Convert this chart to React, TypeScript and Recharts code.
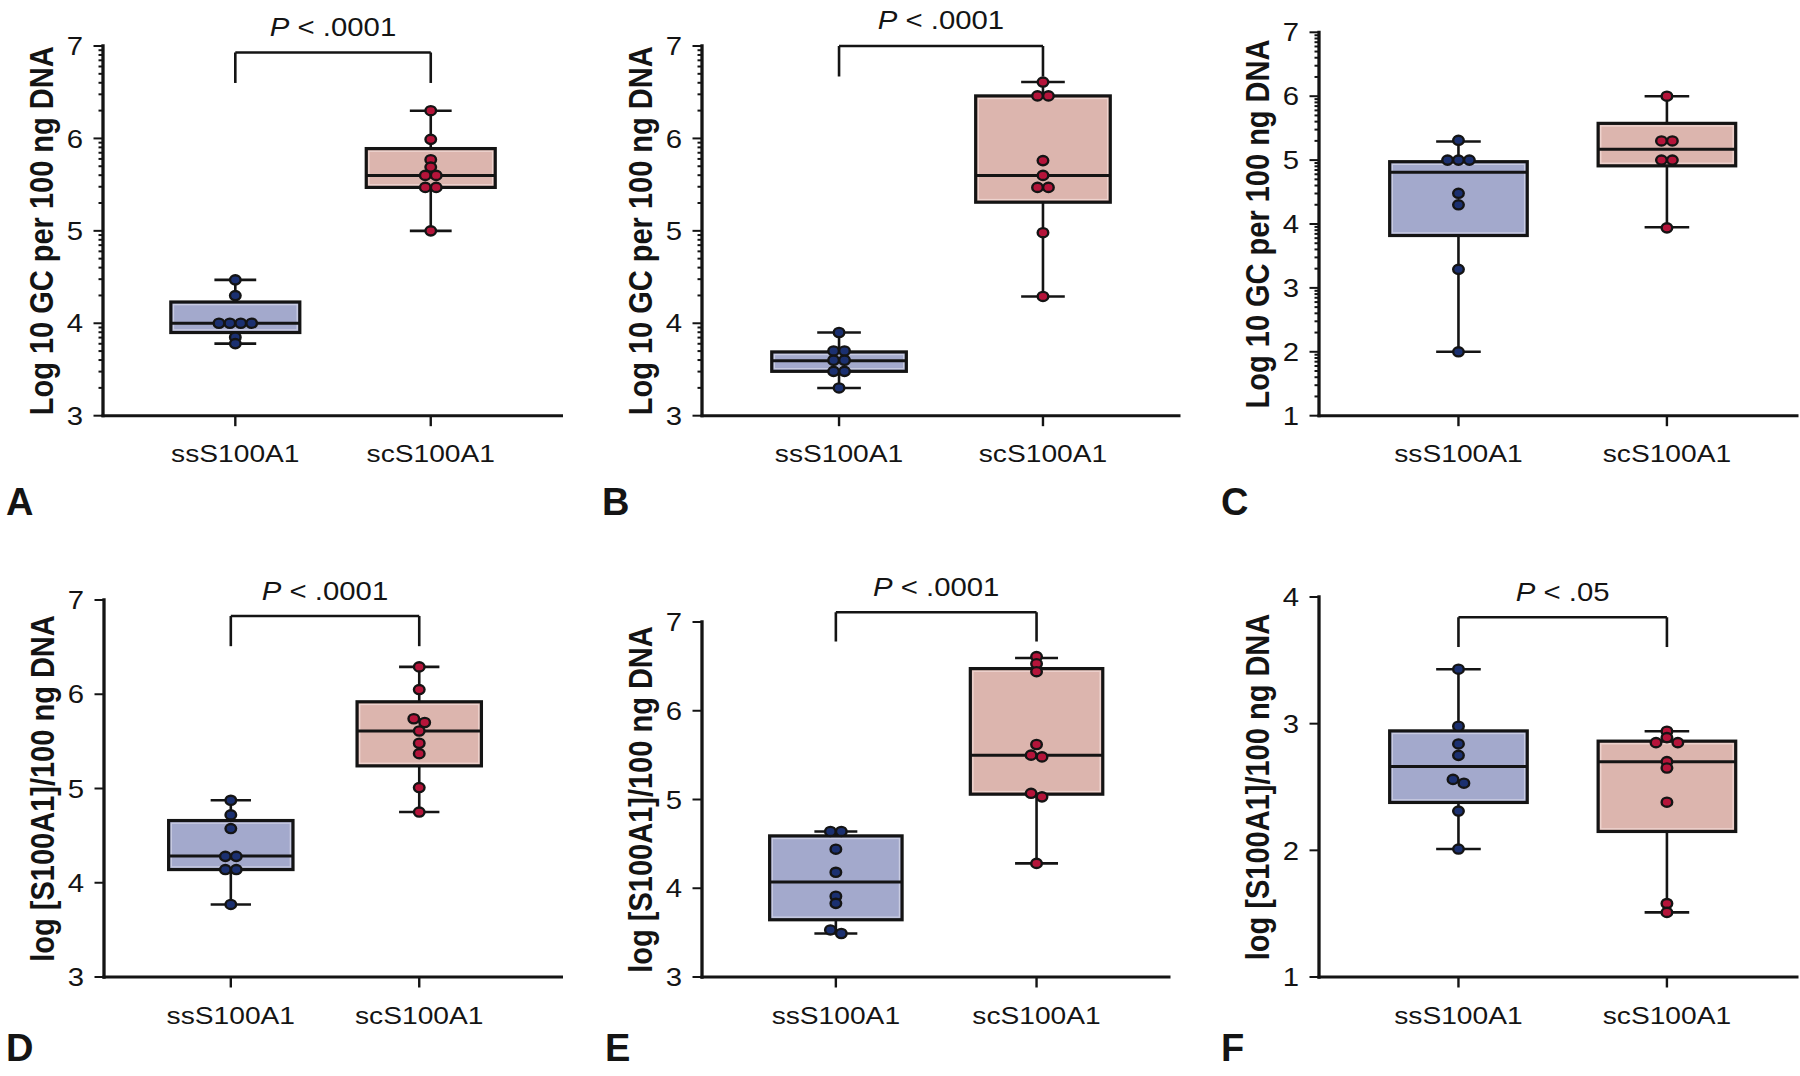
import React from 'react';
import { ComposedChart, XAxis, YAxis, Scatter, ReferenceArea, ReferenceLine } from 'recharts';

const categories = ['ssS100A1', 'scS100A1'];

// individual values, one array per group
const aSsPoints = [4.47, 4.3, 4.0, 4.0, 4.0, 4.0, 3.85, 3.78];
const aScPoints = [6.3, 5.99, 5.77, 5.69, 5.6, 5.6, 5.47, 5.47, 5.0];
const bSsPoints = [3.9, 3.7, 3.7, 3.6, 3.6, 3.48, 3.48, 3.3];
const bScPoints = [6.61, 6.46, 6.46, 5.76, 5.6, 5.47, 5.47, 4.98, 4.29];
const cSsPoints = [5.31, 5.0, 5.0, 5.0, 4.48, 4.3, 3.29, 2.0];
const cScPoints = [6.0, 5.3, 5.3, 5.0, 5.0, 3.94];
const dSsPoints = [4.875, 4.72, 4.575, 4.28, 4.28, 4.14, 4.14, 3.77];
const dScPoints = [6.29, 6.05, 5.74, 5.7, 5.61, 5.48, 5.37, 5.01, 4.75];
const eSsPoints = [4.64, 4.64, 4.44, 4.18, 3.91, 3.83, 3.53, 3.49];
const eScPoints = [6.61, 6.53, 6.44, 5.62, 5.5, 5.48, 5.07, 5.03, 4.28];
const fSsPoints = [3.43, 2.98, 2.84, 2.75, 2.56, 2.53, 2.31, 2.01];
const fScPoints = [2.94, 2.89, 2.85, 2.85, 2.7, 2.65, 2.38, 1.58, 1.51];

// box stats as drawn: min, q1, median, q3, max
const aSsBox = [3.78, 3.9, 4.0, 4.23, 4.47];
const aScBox = [5.0, 5.47, 5.6, 5.89, 6.3];
const bSsBox = [3.3, 3.48, 3.595, 3.69, 3.9];
const bScBox = [4.29, 5.31, 5.6, 6.46, 6.61];
const cSsBox = [2.0, 3.82, 4.81, 4.975, 5.29];
const cScBox = [3.95, 4.91, 5.17, 5.575, 6.0];
const dSsBox = [3.77, 4.14, 4.285, 4.66, 4.875];
const dScBox = [4.75, 5.24, 5.61, 5.92, 6.29];
const eSsBox = [3.49, 3.645, 4.07, 4.59, 4.64];
const eScBox = [4.28, 5.06, 5.5, 6.475, 6.595];
const fSsBox = [2.01, 2.378, 2.662, 2.943, 3.43];
const fScBox = [1.51, 2.149, 2.7, 2.862, 2.94];

const panelLetters = ['A', 'B', 'C', 'D', 'E', 'F'];
const yTitles = [
  'Log 10 GC per 100 ng DNA', 'Log 10 GC per 100 ng DNA', 'Log 10 GC per 100 ng DNA',
  'log [S100A1]/100 ng DNA', 'log [S100A1]/100 ng DNA', 'log [S100A1]/100 ng DNA',
];
const yDomains = [[3, 7], [3, 7], [1, 7], [3, 7], [3, 7], [1, 4]];
const pValues = ['< .0001', '< .0001', null, '< .0001', '< .0001', '< .05'];
const bracketTops = [6.93, 7.0, null, 6.83, 7.11, 3.84];
const bracketFeet = [6.6, 6.67, null, 6.51, 6.78, 3.605];

const ssPoints = [aSsPoints, bSsPoints, cSsPoints, dSsPoints, eSsPoints, fSsPoints];
const scPoints = [aScPoints, bScPoints, cScPoints, dScPoints, eScPoints, fScPoints];
const ssBoxes = [aSsBox, bSsBox, cSsBox, dSsBox, eSsBox, fSsBox];
const scBoxes = [aScBox, bScBox, cScBox, dScBox, eScBox, fScBox];

// layout (pixels on the page)
const layout = [
  { axisX: 103, right: 561.5, top: 46, bottom: 415.7, rowTop: 0, xDom: [0.323, 2.669], minor: true, letterX: 6, letterY: 518 },
  { axisX: 702, right: 1179, top: 46, bottom: 415.7, rowTop: 0, xDom: [0.328, 2.667], minor: true, letterX: 602, letterY: 518 },
  { axisX: 1319, right: 1797, top: 32.3, bottom: 415.7, rowTop: 0, xDom: [0.331, 2.624], minor: true, letterX: 1221, letterY: 518 },
  { axisX: 104, right: 561.5, top: 600, bottom: 977, rowTop: 540, xDom: [0.327, 2.755], minor: false, letterX: 6, letterY: 1064 },
  { axisX: 702, right: 1169, top: 622, bottom: 977, rowTop: 540, xDom: [0.333, 2.66], minor: false, letterX: 605, letterY: 1064 },
  { axisX: 1319, right: 1797, top: 597, bottom: 977, rowTop: 540, xDom: [0.331, 2.624], minor: false, letterX: 1221, letterY: 1064 },
];

const FONT = '"Liberation Sans", Arial, Helvetica, sans-serif';
const INK = '#141414';
const SX = 1.15; // the figure's lettering is drawn a little wide
const BOX_HALF = 0.33;
const CAP_HALF = 0.107;
const Y_AXIS_W = 85;
const X_AXIS_H = 70;

const colors = {
  ss: { box: '#a3a9cc', rim: '#c9cce2', dot: '#1b3070' },
  sc: { box: '#dcb5ae', rim: '#eed4cf', dot: '#b5143a' },
};

// spread overlapping dots sideways, like a column scatter
function swarm(values: number[], cat: number, pxPerY: number, pxPerX: number) {
  const sorted = [...values].sort((a, b) => b - a);
  const groups: number[][] = [];
  sorted.forEach(v => {
    const g = groups[groups.length - 1];
    if (g && (g[g.length - 1] - v) * pxPerY < 6.3) g.push(v);
    else groups.push([v]);
  });
  const step = 10.9 / pxPerX;
  const out: { x: number; y: number }[] = [];
  groups.forEach(g => {
    const n = g.length;
    g.forEach((v, i) => {
      let slot;
      if (n % 2 === 1) slot = i === 0 ? 0 : (i % 2 === 1 ? -Math.ceil(i / 2) : Math.ceil(i / 2));
      else slot = (i % 2 === 0 ? -1 : 1) * (Math.floor(i / 2) + 0.5);
      out.push({ x: cat + slot * step, y: v });
    });
  });
  return out;
}

function logTicks(lo: number, hi: number, minor: boolean) {
  const t: number[] = [];
  for (let n = lo; n <= hi; n++) {
    t.push(n);
    if (minor && n < hi) for (let k = 2; k <= 9; k++) t.push(n + Math.log10(k));
  }
  return t;
}

const YTick = (props: any) => {
  const { x, y, payload } = props;
  const v = payload.value;
  const major = Math.abs(v - Math.round(v)) < 1e-9;
  return (
    <g>
      <line x1={x - (major ? 9.5 : 4.5)} x2={x} y1={y} y2={y} stroke={INK} strokeWidth={2} />
      {major && (
        <text transform={`translate(${x - 20}, ${y}) scale(${SX}, 1)`} dy="0.36em"
          textAnchor="end" fontSize={25.5} fill={INK}>
          {Math.round(v)}
        </text>
      )}
    </g>
  );
};

const XTick = (props: any) => {
  const { x, y, payload } = props;
  return (
    <text transform={`translate(${x}, ${y + 36}) scale(${SX}, 1)`} textAnchor="middle"
      fontSize={24.5} fill={INK}>
      {categories[Math.round(payload.value) - 1]}
    </text>
  );
};

const makeDot = (fill: string) => (props: any) => (
  <ellipse cx={props.cx} cy={props.cy} rx={5.3} ry={4.6} fill={fill} stroke={INK} strokeWidth={2.4} />
);

// filled box with the light inner rim seen in the original
const makeBoxShape = (fill: string, rim: string) => (props: any) => {
  const { x, y, width, height } = props;
  return (
    <g>
      <rect x={x} y={y} width={width} height={height} fill={fill} />
      <rect x={x + 2.6} y={y + 2.6} width={Math.max(0, width - 5.2)} height={Math.max(0, height - 5.2)}
        fill="none" stroke={rim} strokeWidth={1.4} />
      <rect x={x} y={y} width={width} height={height} fill="none" stroke={INK} strokeWidth={3.2} />
    </g>
  );
};

const makeYTitle = (title: string) => (props: any) => {
  const vb = props.viewBox || {};
  const x = vb.x + vb.width - 50;
  const y = vb.y + vb.height / 2;
  return (
    <text transform={`translate(${x}, ${y}) scale(${SX}, 1) rotate(-90)`} textAnchor="middle"
      fontSize={29} fontWeight="bold" fill={INK}>
      {title}
    </text>
  );
};

const makePLabel = (txt: string) => (props: any) => {
  const vb = props.viewBox || {};
  const x = vb.x + (vb.width || 0) / 2;
  const y = vb.y - 16.5;
  return (
    <text transform={`translate(${x}, ${y}) scale(${SX}, 1)`} textAnchor="middle" fontSize={25.5} fill={INK}>
      <tspan fontStyle="italic">P</tspan>
      <tspan>{'\u00a0' + txt}</tspan>
    </text>
  );
};

function BoxGroup(box: number[], cat: number, c: { box: string; rim: string }, key: string) {
  const [mn, q1, med, q3, mx] = box;
  const line = { stroke: INK, strokeWidth: 2.6, ifOverflow: 'visible' as const };
  return [
    <ReferenceLine key={key + 'wl'} segment={[{ x: cat, y: mn }, { x: cat, y: q1 }]} {...line} />,
    <ReferenceLine key={key + 'wh'} segment={[{ x: cat, y: q3 }, { x: cat, y: mx }]} {...line} />,
    <ReferenceLine key={key + 'cl'} segment={[{ x: cat - CAP_HALF, y: mn }, { x: cat + CAP_HALF, y: mn }]} {...line} />,
    <ReferenceLine key={key + 'ch'} segment={[{ x: cat - CAP_HALF, y: mx }, { x: cat + CAP_HALF, y: mx }]} {...line} />,
    <ReferenceArea key={key + 'box'} x1={cat - BOX_HALF} x2={cat + BOX_HALF} y1={q1} y2={q3}
      fill={c.box} fillOpacity={1} ifOverflow="visible" shape={makeBoxShape(c.box, c.rim)} />,
    <ReferenceLine key={key + 'med'} segment={[{ x: cat - BOX_HALF, y: med }, { x: cat + BOX_HALF, y: med }]}
      stroke={INK} strokeWidth={3} ifOverflow="visible" />,
  ];
}

function Panel({ i }: { i: number }) {
  const L = layout[i];
  const [y0, y1] = yDomains[i];
  const left = L.axisX - Y_AXIS_W;
  const width = L.right - left + 3;
  const height = L.bottom + X_AXIS_H - L.rowTop;
  const pxPerY = (L.bottom - L.top) / (y1 - y0);
  const pxPerX = (L.right - L.axisX) / (L.xDom[1] - L.xDom[0]);
  const ssData = swarm(ssPoints[i], 1, pxPerY, pxPerX);
  const scData = swarm(scPoints[i], 2, pxPerY, pxPerX);
  const top = bracketTops[i];
  const foot = bracketFeet[i];
  const p = pValues[i];
  const bl = { stroke: INK, strokeWidth: 2.6, ifOverflow: 'visible' as const };

  return (
    <div style={{ position: 'absolute', left, top: L.rowTop, width, height }}>
      <ComposedChart width={width} height={height}
        margin={{ top: L.top - L.rowTop, right: 3, bottom: 0, left: 0 }}>
        <XAxis type="number" dataKey="x" domain={L.xDom} allowDataOverflow ticks={[1, 2]}
          height={X_AXIS_H} tickSize={10.5} tickMargin={0}
          tick={<XTick />}
          tickLine={{ stroke: INK, strokeWidth: 2.4 }}
          axisLine={{ stroke: INK, strokeWidth: 3, strokeLinecap: 'square' }} />
        <YAxis type="number" dataKey="y" domain={[y0, y1]} allowDataOverflow
          ticks={logTicks(y0, y1, L.minor)} interval={0}
          width={Y_AXIS_W} tickSize={0} tickMargin={0} tickLine={false}
          tick={<YTick />}
          axisLine={{ stroke: INK, strokeWidth: 3.3, strokeLinecap: 'square' }}
          label={makeYTitle(yTitles[i])} />
        {BoxGroup(ssBoxes[i], 1, colors.ss, 'ss')}
        {BoxGroup(scBoxes[i], 2, colors.sc, 'sc')}
        {top !== null && foot !== null && [
          <ReferenceLine key="bt" segment={[{ x: 1, y: top }, { x: 2, y: top }]} {...bl}
            label={makePLabel(p as string)} />,
          <ReferenceLine key="b1" segment={[{ x: 1, y: top }, { x: 1, y: foot }]} {...bl} />,
          <ReferenceLine key="b2" segment={[{ x: 2, y: top }, { x: 2, y: foot }]} {...bl} />,
        ]}
        <Scatter name={categories[0]} data={ssData} shape={makeDot(colors.ss.dot)} isAnimationActive={false} />
        <Scatter name={categories[1]} data={scData} shape={makeDot(colors.sc.dot)} isAnimationActive={false} />
      </ComposedChart>
    </div>
  );
}

export default function App() {
  return (
    <div style={{ position: 'absolute', left: 0, top: 0, width: 1800, height: 1076, background: '#fff', fontFamily: FONT, overflow: 'hidden' }}>
      {layout.map((_, i) => <Panel key={i} i={i} />)}
      {panelLetters.map((t, i) => (
        <div key={t} style={{
          position: 'absolute', left: layout[i].letterX, top: layout[i].letterY - 35,
          fontSize: 38, fontWeight: 'bold', lineHeight: '38px', color: INK,
        }}>{t}</div>
      ))}
    </div>
  );
}
